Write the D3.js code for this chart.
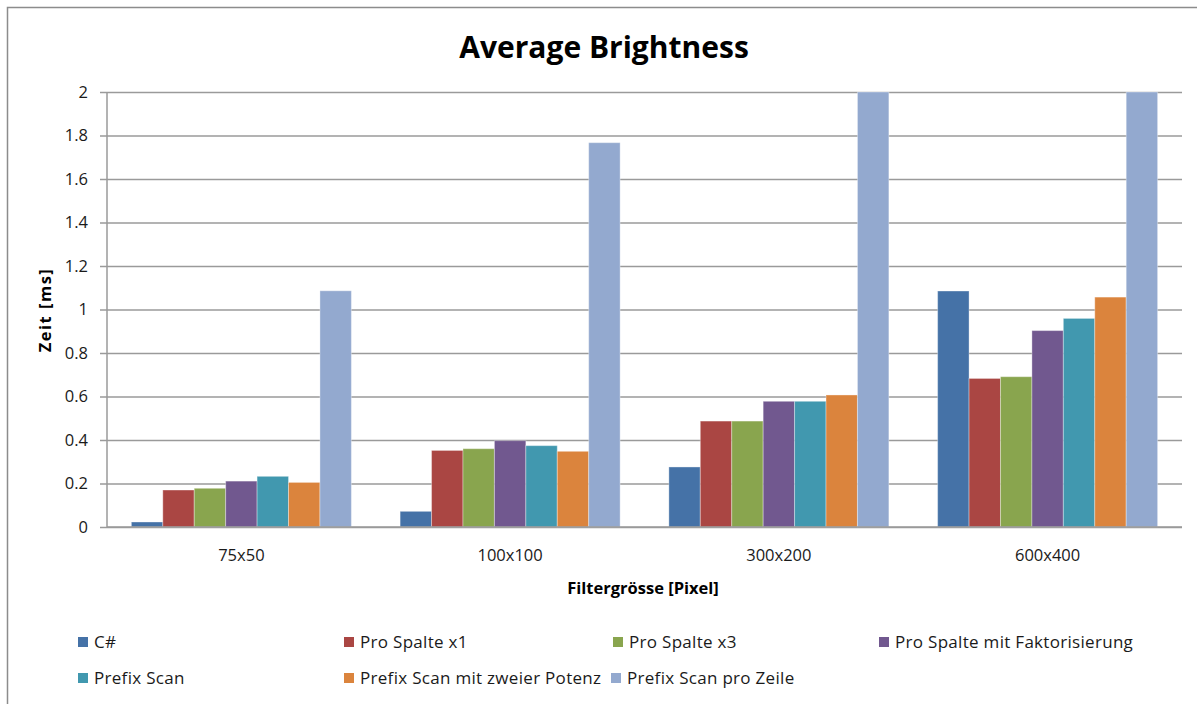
<!DOCTYPE html>
<html>
<head>
<meta charset="utf-8">
<script src="https://cdn.jsdelivr.net/npm/d3@7"></script>
<style>
  html, body { margin: 0; padding: 0; background: #fff; }
  svg { display: block; font-family: "Open Sans", "DejaVu Sans", sans-serif; }
</style>
</head>
<body>
<svg id="chart" width="1197" height="704"></svg>
<script>
// Filter sizes on the x axis
const categories = ["75x50", "100x100", "300x200", "600x400"];

// Series names (legend order)
const seriesNames = [
  "C#",
  "Pro Spalte x1",
  "Pro Spalte x3",
  "Pro Spalte mit Faktorisierung",
  "Prefix Scan",
  "Prefix Scan mit zweier Potenz",
  "Prefix Scan pro Zeile"
];

// Timings in ms, one array per series, in category order
const csharp        = [0.023, 0.072, 0.276, 1.085];
const proSpalteX1   = [0.170, 0.352, 0.487, 0.683];
const proSpalteX3   = [0.178, 0.360, 0.487, 0.691];
const proSpalteFakt = [0.211, 0.397, 0.578, 0.903];
const prefixScan    = [0.233, 0.374, 0.578, 0.959];
const prefixPotenz  = [0.205, 0.348, 0.607, 1.057];
const prefixZeile   = [1.086, 1.767, 3.1, 6.2]; // last two run past the 2 ms axis limit

const seriesValues = [csharp, proSpalteX1, proSpalteX3, proSpalteFakt, prefixScan, prefixPotenz, prefixZeile];

const seriesColors = ["#4572A7", "#AA4643", "#89A54E", "#71588F", "#4198AF", "#DB843D", "#93A9CF"];

const yTicks = [0, 0.2, 0.4, 0.6, 0.8, 1, 1.2, 1.4, 1.6, 1.8, 2];

const svg = d3.select("#chart");

// Outer chart frame
svg.append("rect")
  .attr("x", 7.5).attr("y", 7.5)
  .attr("width", 1200).attr("height", 720)
  .attr("fill", "#fff")
  .attr("stroke", "#8c8c8c")
  .attr("stroke-width", 1.5);

const plot = { left: 107, right: 1182, top: 92, bottom: 527 };

const y = d3.scaleLinear().domain([0, 2]).range([plot.bottom, plot.top]).clamp(true);

const x0 = d3.scaleBand()
  .domain(categories)
  .range([plot.left, plot.right])
  .paddingInner(0.1814)
  .paddingOuter(0.0907);

const x1 = d3.scaleBand()
  .domain(d3.range(seriesNames.length))
  .range([0, x0.bandwidth()])
  .padding(0);

// Horizontal gridlines with small left tick marks
const yAxis = d3.axisLeft(y)
  .tickValues(yTicks)
  .tickSize(-(plot.right - plot.left))
  .tickPadding(19)
  .tickFormat(d => String(d));

const gy = svg.append("g")
  .attr("transform", `translate(${plot.left},0)`)
  .call(yAxis);
gy.select(".domain").remove();
gy.selectAll(".tick line")
  .attr("x1", -7)
  .attr("stroke", "#9a9a9a")
  .attr("stroke-width", 1.5);
gy.selectAll(".tick text")
  .attr("fill", "#1a1a1a")
  .attr("font-size", 16.5)
  .attr("font-family", "'Open Sans', sans-serif");

// Bars
const groups = svg.append("g")
  .selectAll("g")
  .data(categories)
  .join("g")
  .attr("transform", d => `translate(${x0(d)},0)`);

groups.selectAll("rect")
  .data((c, ci) => seriesValues.map((vals, si) => ({ si, v: vals[ci] })))
  .join("rect")
  .attr("x", d => x1(d.si))
  .attr("width", x1.bandwidth())
  .attr("y", d => y(d.v))
  .attr("height", d => plot.bottom - y(d.v))
  .attr("fill", d => seriesColors[d.si])
  .attr("stroke", "#ffffff")
  .attr("stroke-opacity", 0.35)
  .attr("stroke-width", 1);

// Vertical axis line
svg.append("line")
  .attr("x1", plot.left).attr("x2", plot.left)
  .attr("y1", plot.top).attr("y2", plot.bottom)
  .attr("stroke", "#9a9a9a").attr("stroke-width", 1.5);

// Category axis
const gx = svg.append("g")
  .attr("transform", `translate(0,${plot.bottom})`)
  .call(d3.axisBottom(x0).tickSize(0).tickPadding(22));
gx.select(".domain")
  .attr("d", `M${plot.left},0H${plot.right}`)
  .attr("stroke", "#9a9a9a")
  .attr("stroke-width", 1.5);
gx.selectAll(".tick text")
  .attr("fill", "#1a1a1a")
  .attr("font-size", 16.5)
  .attr("font-family", "'Open Sans', sans-serif");

// Title
svg.append("text")
  .attr("x", 604).attr("y", 58)
  .attr("text-anchor", "middle")
  .attr("font-size", 30)
  .attr("font-weight", "bold")
  .attr("fill", "#000")
  .text("Average Brightness");

// Axis titles
svg.append("text")
  .attr("x", 643).attr("y", 594)
  .attr("text-anchor", "middle")
  .attr("font-size", 16.5)
  .attr("font-weight", "bold")
  .attr("fill", "#000")
  .text("Filtergrösse [Pixel]");

svg.append("text")
  .attr("transform", "translate(51,310) rotate(-90)")
  .attr("text-anchor", "middle")
  .attr("font-size", 16.5)
  .attr("font-weight", "bold")
  .attr("letter-spacing", 1.5)
  .attr("fill", "#000")
  .text("Zeit [ms]");

// Legend, two rows
const legendSlots = [
  [78, 642], [344, 642], [613, 642], [879, 642],
  [78, 678], [344, 678], [611, 678]
];

const legend = svg.append("g")
  .selectAll("g")
  .data(seriesNames)
  .join("g")
  .attr("transform", (d, i) => `translate(${legendSlots[i][0]},${legendSlots[i][1]})`);

legend.append("rect")
  .attr("x", 0).attr("y", -5)
  .attr("width", 10).attr("height", 10)
  .attr("fill", (d, i) => seriesColors[i]);

legend.append("text")
  .attr("x", 16).attr("y", 0)
  .attr("dy", "0.35em")
  .attr("font-size", 17)
  .attr("letter-spacing", 0.3)
  .attr("fill", "#1a1a1a")
  .text(d => d);
</script>
</body>
</html>
